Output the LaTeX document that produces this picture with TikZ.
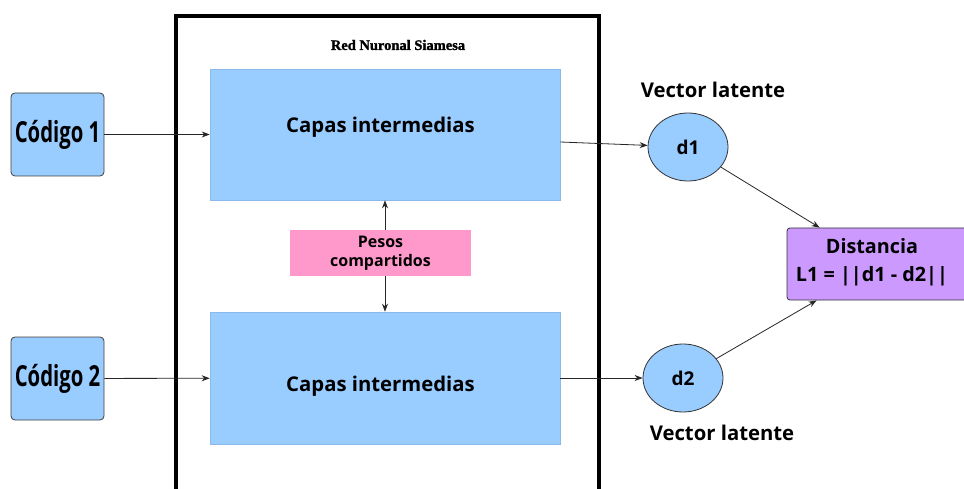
\documentclass[tikz,border=0pt]{standalone}
\usepackage{fontspec}
\setmainfont{Open Sans}
\newfontfamily\titlefont[BoldFeatures={FakeBold=1.6}]{Liberation Serif}
\usetikzlibrary{arrows.meta,calc,shapes.geometric}
\definecolor{layerblue}{RGB}{153,204,255}
\definecolor{layeredge}{RGB}{140,185,235}
\definecolor{sharedpink}{RGB}{255,153,204}
\definecolor{distpurple}{RGB}{204,153,255}
\tikzset{
  layerbox/.style={fill=layerblue, draw=layeredge, line width=0.6pt, inner sep=0pt},
  inputbox/.style={fill=layerblue, draw=black!75, line width=0.8pt, rounded corners=4pt,
    minimum width=93pt, minimum height=83pt, inner sep=0pt},
  latent/.style={ellipse, fill=layerblue, draw=black!80, line width=0.8pt,
    minimum width=80pt, minimum height=68pt, inner sep=0pt, font=\bfseries\fontsize{19}{22}\selectfont},
  lbl/.style={font=\bfseries\fontsize{20.3}{23}\selectfont, inner sep=0pt},
  arr/.style={-{Stealth[length=8pt,width=6pt]}, line width=0.8pt, draw=black!85},
}
\begin{document}
\begin{tikzpicture}[x=1pt,y=-1pt]
  \useasboundingbox (0,0) rectangle (964,489);
  \clip (0,0) rectangle (964,489);
  \fill[white] (0,0) rectangle (964,489);

  % network frame
  \draw[line width=4.5pt] (176,16) rectangle (599,520);
  \node[font=\titlefont\bfseries\fontsize{14.5}{16}\selectfont, inner sep=0pt] (title) at (398,45) {Red Nuronal Siamesa};

  % shared layers
  \node[layerbox, minimum width=350pt, minimum height=131pt] (top) at (385,134.5) {};
  \node[layerbox, minimum width=350pt, minimum height=132pt] (bottom) at (385,378) {};
  \node[lbl] (toptext) at (380.5,127) {Capas intermedias};
  \node[lbl] (bottomtext) at (380.5,386) {Capas intermedias};

  \node[fill=sharedpink, minimum width=181pt, minimum height=46pt, inner sep=0pt,
        align=center, font=\bfseries\fontsize{16}{19}\selectfont] (shared) at (380.5,253) {Pesos\\compartidos};
  \draw[arr] (shared.north -| top.south) -- (top.south);
  \draw[arr] (shared.south -| bottom.north) -- (bottom.north);

  % inputs
  \node[inputbox] (in1) at (57.5,134.5) {\scalebox{0.7}[1]{\bfseries\fontsize{29}{32}\selectfont Código 1}};
  \node[inputbox] (in2) at (57.5,378.5) {\scalebox{0.7}[1]{\bfseries\fontsize{29}{32}\selectfont Código 2}};
  \draw[arr] (in1) -- (top);
  \draw[arr] (in2) -- (bottom);

  % latent vectors
  \node[latent] (d1) at (688,147) {d1};
  \node[latent] (d2) at (683,378) {d2};
  \node[lbl] (v1) at (713,90) {Vector latente};
  \node[lbl] (v2) at (722,433) {Vector latente};
  \coordinate (topout) at ($(top.east)+(0,7.5)$);
  \draw[arr] (topout) -- (d1);
  \draw[arr] (bottom.east) -- (d2);

  % distance
  \node[fill=distpurple, draw=black!80, line width=0.8pt, rounded corners=3pt,
        minimum width=180pt, minimum height=72pt, inner sep=0pt] (dist) at (877,264) {};
  \node[lbl, align=center, font=\bfseries\fontsize{19.8}{28}\selectfont] (disttext) at (872,262) {Distancia\\L1 = ||d1 - d2||};
  \coordinate (distin1) at ($(dist.north west)+(33,0)$);
  \coordinate (distin2) at ($(dist.south west)+(30,0)$);
  \draw[arr] (d1) -- (distin1);
  \draw[arr] (d2) -- (distin2);
\end{tikzpicture}
\end{document}
